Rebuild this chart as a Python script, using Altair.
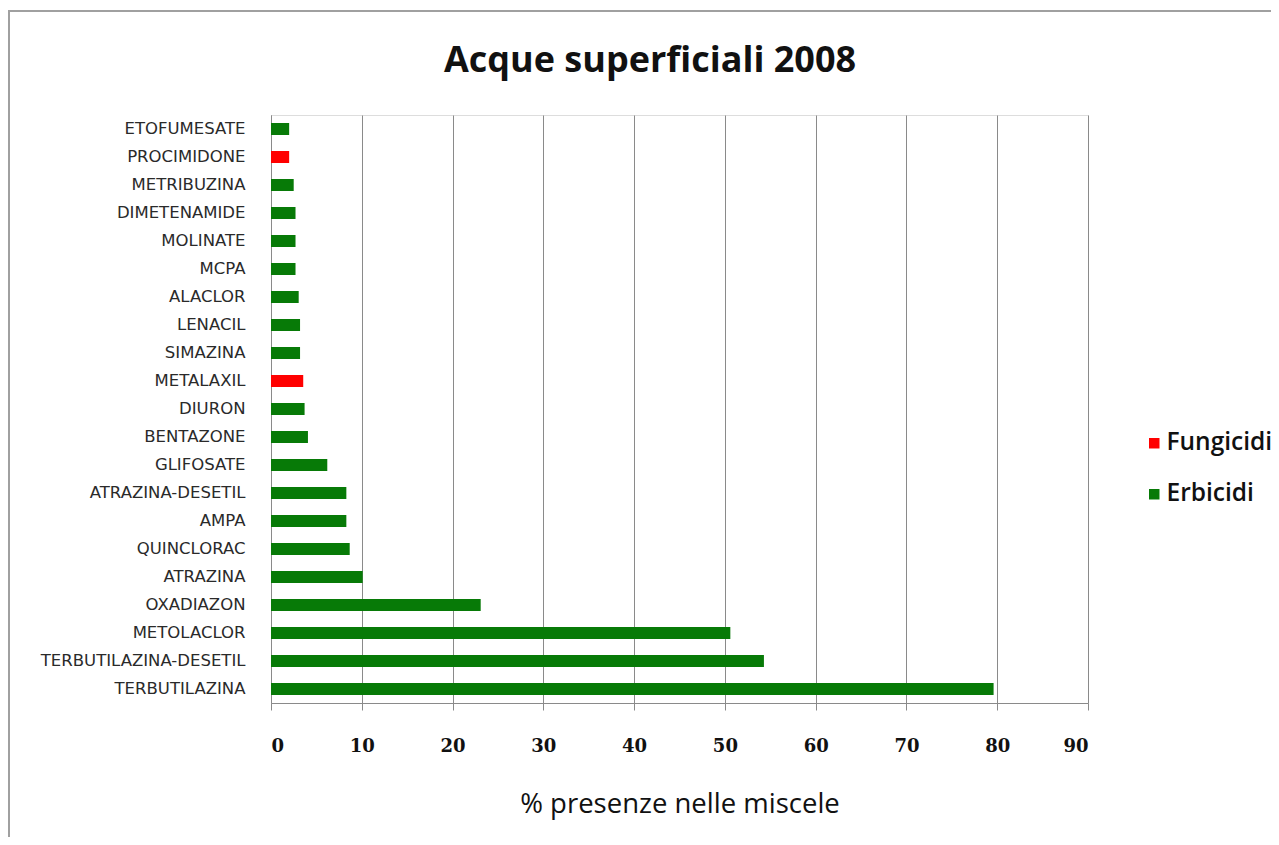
import altair as alt
import pandas as pd

categories = [
    "ETOFUMESATE", "PROCIMIDONE", "METRIBUZINA", "DIMETENAMIDE", "MOLINATE",
    "MCPA", "ALACLOR", "LENACIL", "SIMAZINA", "METALAXIL", "DIURON",
    "BENTAZONE", "GLIFOSATE", "ATRAZINA-DESETIL", "AMPA", "QUINCLORAC",
    "ATRAZINA", "OXADIAZON", "METOLACLOR", "TERBUTILAZINA-DESETIL", "TERBUTILAZINA",
]
values = [2.0, 2.0, 2.5, 2.7, 2.7, 2.7, 3.05, 3.2, 3.2, 3.55, 3.7,
          4.07, 6.2, 8.3, 8.3, 8.67, 10.1, 23.1, 50.6, 54.3, 79.6]
groups = ["Erbicidi", "Fungicidi", "Erbicidi", "Erbicidi", "Erbicidi",
          "Erbicidi", "Erbicidi", "Erbicidi", "Erbicidi", "Fungicidi", "Erbicidi",
          "Erbicidi", "Erbicidi", "Erbicidi", "Erbicidi", "Erbicidi",
          "Erbicidi", "Erbicidi", "Erbicidi", "Erbicidi", "Erbicidi"]
legend_order = ["Fungicidi", "Erbicidi"]
legend_colors = ["#FF0000", "#077A07"]
x_ticks = [0, 10, 20, 30, 40, 50, 60, 70, 80, 90]
title_text = ["Acque superficiali 2008"]

df = pd.DataFrame({"sostanza": categories, "valore": values, "gruppo": groups})

bars = alt.Chart(df).mark_bar(size=12).encode(
    x=alt.X("valore:Q",
            scale=alt.Scale(domain=[0, 90], nice=False),
            axis=alt.Axis(values=x_ticks, title="% presenze nelle miscele",
                          grid=True, gridColor="#8a8a8a", gridWidth=1,
                          domainColor="#8a8a8a", tickColor="#8a8a8a", tickSize=7,
                          labelFont="DejaVu Serif", labelFontSize=18, labelFontWeight="bold",
                          labelColor="#111111", labelPadding=27,
                          titleFont="Open Sans", titleFontSize=27.5, titleFontWeight=500,
                          titleColor="#111111", titlePadding=35)),
    y=alt.Y("sostanza:N", sort=categories,
            axis=alt.Axis(title=None, ticks=False, domainColor="#8a8a8a",
                          labelFont="DejaVu Sans", labelFontSize=16.5, labelColor="#2a2a2a",
                          labelPadding=26, labelLimit=400, grid=False)),
    color=alt.Color("gruppo:N",
                    scale=alt.Scale(domain=legend_order, range=legend_colors),
                    legend=alt.Legend(title=None, orient="none", legendX=871, legendY=316,
                                      symbolType="square", symbolSize=110,
                                      symbolStrokeWidth=0, labelFont="Open Sans",
                                      labelFontSize=24.5, labelFontWeight=600,
                                      labelColor="#111111",
                                      rowPadding=26, labelOffset=0)),
)

frame = alt.Chart(df).mark_rect(fill=None, stroke="#a0a0a0", strokeWidth=2).encode(
    x=alt.value(-262), x2=alt.value(1030), y=alt.value(-104), y2=alt.value(760)
)

title = alt.Chart(pd.DataFrame({"t": title_text})).mark_text(
    font="Open Sans", fontSize=36, fontWeight="bold", color="#111111",
    align="center", baseline="middle"
).encode(text="t:N", x=alt.value(379), y=alt.value(-54))

chart = alt.layer(frame, bars, title).properties(
    width=817, height=588,
    autosize=alt.AutoSizeParams(type="none"),
    padding={"left": 263, "top": 107, "right": 183, "bottom": 134},
).configure_view(stroke=None).configure(background="white")

chart.save("out.html", embed_options={"renderer": "svg", "actions": False})
